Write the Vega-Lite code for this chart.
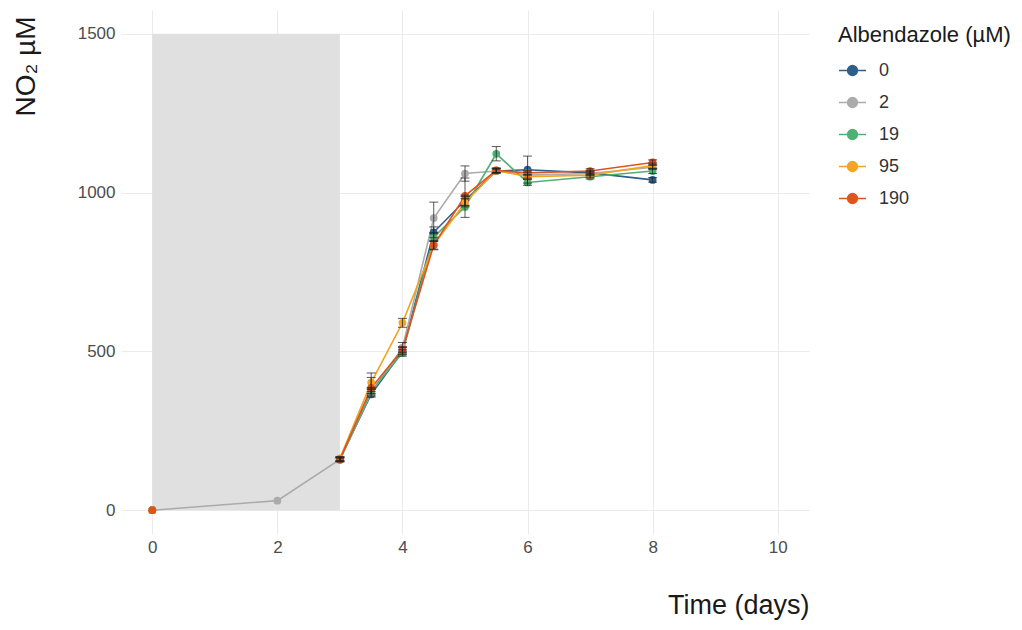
{
  "$schema": "https://vega.github.io/schema/vega-lite/v6.json",
  "width": 688,
  "height": 524,
  "autosize": "none",
  "padding": {"left": 121, "top": 10, "right": 213, "bottom": 96},
  "background": "white",
  "config": {
    "view": {"stroke": null},
    "font": "Liberation Sans",
    "axis": {
      "domain": false,
      "ticks": false,
      "gridColor": "#ebebeb",
      "gridWidth": 1,
      "labelFont": "Liberation Sans",
      "labelFontSize": 17,
      "labelColor": "#4d4d4d",
      "titleFont": "Liberation Sans",
      "titleFontSize": 27,
      "titleFontWeight": "normal",
      "titleColor": "#1a1a1a"
    },
    "legend": {
      "titleFont": "Liberation Sans",
      "titleFontSize": 22,
      "titleFontWeight": "normal",
      "titleColor": "#1a1a1a",
      "labelFont": "Liberation Sans",
      "labelFontSize": 18,
      "labelColor": "#333333"
    }
  },
  "data": {
    "values": [
      {"day": 0, "dose": "0", "no2": 0, "lo": 0, "hi": 0},
      {"day": 3, "dose": "0", "no2": 160, "lo": 153, "hi": 167},
      {"day": 3.5, "dose": "0", "no2": 365, "lo": 356, "hi": 374},
      {"day": 4, "dose": "0", "no2": 500, "lo": 490, "hi": 512},
      {"day": 4.5, "dose": "0", "no2": 875, "lo": 858, "hi": 892},
      {"day": 5, "dose": "0", "no2": 975, "lo": 958, "hi": 992},
      {"day": 5.5, "dose": "0", "no2": 1068, "lo": 1061, "hi": 1075},
      {"day": 6, "dose": "0", "no2": 1072, "lo": 1030, "hi": 1115},
      {"day": 7, "dose": "0", "no2": 1062, "lo": 1055, "hi": 1069},
      {"day": 8, "dose": "0", "no2": 1040, "lo": 1033, "hi": 1047},

      {"day": 0, "dose": "2", "no2": 0, "lo": 0, "hi": 0},
      {"day": 2, "dose": "2", "no2": 30, "lo": 26, "hi": 34},
      {"day": 3, "dose": "2", "no2": 160, "lo": 155, "hi": 165},
      {"day": 3.5, "dose": "2", "no2": 370, "lo": 360, "hi": 380},
      {"day": 4, "dose": "2", "no2": 512, "lo": 498, "hi": 528},
      {"day": 4.5, "dose": "2", "no2": 920, "lo": 870, "hi": 970},
      {"day": 5, "dose": "2", "no2": 1060, "lo": 1036, "hi": 1084},
      {"day": 5.5, "dose": "2", "no2": 1068, "lo": 1062, "hi": 1074},
      {"day": 6, "dose": "2", "no2": 1055, "lo": 1046, "hi": 1064},
      {"day": 7, "dose": "2", "no2": 1060, "lo": 1053, "hi": 1067},
      {"day": 8, "dose": "2", "no2": 1080, "lo": 1073, "hi": 1087},

      {"day": 0, "dose": "19", "no2": 0, "lo": 0, "hi": 0},
      {"day": 3, "dose": "19", "no2": 158, "lo": 152, "hi": 164},
      {"day": 3.5, "dose": "19", "no2": 375, "lo": 366, "hi": 384},
      {"day": 4, "dose": "19", "no2": 495, "lo": 485, "hi": 505},
      {"day": 4.5, "dose": "19", "no2": 860, "lo": 846, "hi": 874},
      {"day": 5, "dose": "19", "no2": 955, "lo": 922, "hi": 988},
      {"day": 5.5, "dose": "19", "no2": 1122, "lo": 1100, "hi": 1145},
      {"day": 6, "dose": "19", "no2": 1032, "lo": 1023, "hi": 1041},
      {"day": 7, "dose": "19", "no2": 1050, "lo": 1043, "hi": 1057},
      {"day": 8, "dose": "19", "no2": 1068, "lo": 1060, "hi": 1076},

      {"day": 0, "dose": "95", "no2": 0, "lo": 0, "hi": 0},
      {"day": 3, "dose": "95", "no2": 163, "lo": 157, "hi": 169},
      {"day": 3.5, "dose": "95", "no2": 402, "lo": 386, "hi": 418},
      {"day": 4, "dose": "95", "no2": 590, "lo": 576, "hi": 604},
      {"day": 4.5, "dose": "95", "no2": 835, "lo": 822, "hi": 848},
      {"day": 5, "dose": "95", "no2": 968, "lo": 955, "hi": 981},
      {"day": 5.5, "dose": "95", "no2": 1070, "lo": 1063, "hi": 1077},
      {"day": 6, "dose": "95", "no2": 1050, "lo": 1043, "hi": 1057},
      {"day": 7, "dose": "95", "no2": 1055, "lo": 1048, "hi": 1062},
      {"day": 8, "dose": "95", "no2": 1085, "lo": 1077, "hi": 1093},

      {"day": 0, "dose": "190", "no2": 0, "lo": 0, "hi": 0},
      {"day": 3, "dose": "190", "no2": 160, "lo": 154, "hi": 166},
      {"day": 3.5, "dose": "190", "no2": 385, "lo": 368, "hi": 432},
      {"day": 4, "dose": "190", "no2": 505, "lo": 495, "hi": 515},
      {"day": 4.5, "dose": "190", "no2": 835, "lo": 820, "hi": 850},
      {"day": 5, "dose": "190", "no2": 990, "lo": 960, "hi": 1046},
      {"day": 5.5, "dose": "190", "no2": 1070, "lo": 1063, "hi": 1077},
      {"day": 6, "dose": "190", "no2": 1062, "lo": 1055, "hi": 1069},
      {"day": 7, "dose": "190", "no2": 1068, "lo": 1061, "hi": 1075},
      {"day": 8, "dose": "190", "no2": 1095, "lo": 1087, "hi": 1103}
    ]
  },
  "layer": [
    {
      "data": {"values": [{"start": 0, "end": 3, "bottom": 0, "top": 1500}]},
      "mark": {"type": "rect", "color": "#e0e0e0", "opacity": 1},
      "encoding": {
        "x": {
          "field": "start", "type": "quantitative",
          "title": "Time (days)",
          "scale": {"domain": [-0.5, 10.5], "nice": false, "zero": false},
          "axis": {
            "values": [0, 2, 4, 6, 8, 10],
            "format": "d",
            "labelPadding": 5,
            "titleAnchor": "end",
            "titleAlign": "right",
            "titleX": 688,
            "titleY": 71,
            "titleBaseline": "middle"
          }
        },
        "x2": {"field": "end"},
        "y": {
          "field": "bottom", "type": "quantitative",
          "title": "NO₂ µM",
          "scale": {"domain": [-75, 1575], "nice": false, "zero": false},
          "axis": {
            "values": [0, 500, 1000, 1500],
            "format": "d",
            "labelPadding": 6,
            "titleAngle": -90,
            "titleAlign": "center",
            "titleBaseline": "middle",
            "titleFontSize": 28,
            "titleX": -95,
            "titleY": 56
          }
        },
        "y2": {"field": "top"}
      }
    },
    {
      "transform": [{"filter": "datum.day > 0 || datum.dose == '2'"}],
      "mark": {"type": "line", "strokeWidth": 1.6},
      "encoding": {
        "x": {"field": "day", "type": "quantitative", "title": "Time (days)"},
        "y": {"field": "no2", "type": "quantitative", "title": "NO₂ µM"},
        "color": {
          "field": "dose", "type": "nominal",
          "scale": {
            "domain": ["0", "2", "19", "95", "190"],
            "range": ["#2d5f8c", "#ababab", "#4fb074", "#f2a523", "#e0531f"]
          },
          "legend": {
            "title": "Albendazole (µM)",
            "orient": "none",
            "legendX": 717,
            "legendY": 15,
            "symbolType": "M-1,0L1,0M-0.36,0A0.36,0.36 0 1,1 0.36,0A0.36,0.36 0 1,1 -0.36,0Z",
            "symbolSize": 729,
            "symbolStrokeWidth": 1.6,
            "labelOffset": 12,
            "rowPadding": 8,
            "titlePadding": 9
          }
        },
        "order": {"field": "day", "type": "quantitative"}
      }
    },
    {
      "mark": {"type": "point", "filled": true, "size": 60, "opacity": 1},
      "encoding": {
        "x": {"field": "day", "type": "quantitative", "title": "Time (days)"},
        "y": {"field": "no2", "type": "quantitative", "title": "NO₂ µM"},
        "color": {"field": "dose", "type": "nominal"}
      }
    },
    {
      "transform": [{"filter": "datum.day > 2"}],
      "mark": {"type": "errorbar", "ticks": {"size": 9}, "color": "#222222", "opacity": 0.75, "thickness": 1},
      "encoding": {
        "x": {"field": "day", "type": "quantitative", "title": "Time (days)"},
        "y": {"field": "lo", "type": "quantitative", "title": "NO₂ µM"},
        "y2": {"field": "hi"},
        "detail": {"field": "dose"}
      }
    }
  ]
}
